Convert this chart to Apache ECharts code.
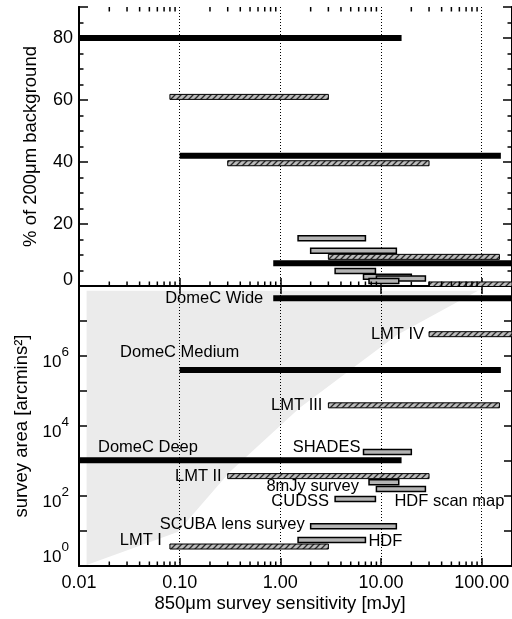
<!DOCTYPE html>
<html>
<head>
<meta charset="utf-8">
<script src="https://cdn.jsdelivr.net/npm/echarts@6/dist/echarts.min.js"></script>
<style>
  html, body { margin: 0; padding: 0; background: #fff; }
  #chart { width: 512px; height: 619px; }
</style>
</head>
<body>
<div id="chart"></div>
<script>
// surveys
var surveyNames = ['DomeC Wide', 'DomeC Medium', 'DomeC Deep', 'LMT I', 'LMT II', 'LMT III', 'LMT IV',
                   'SHADES', 'HDF scan map', '8mJy survey', 'CUDSS', 'SCUBA lens survey', 'HDF'];
var surveyKind = ['domec', 'domec', 'domec', 'lmt', 'lmt', 'lmt', 'lmt',
                  'scuba', 'scuba', 'scuba', 'scuba', 'scuba', 'scuba'];
var fluxLow  = [0.85, 0.1, 0.01, 0.08, 0.3, 3.0, 30, 6.7, 9.0, 7.6, 3.5, 2.0, 1.5];
var fluxHigh = [200, 155, 16, 3.0, 30, 150, 200, 20, 27.6, 15, 8.8, 14.2, 7.0];
var bgPercent  = [7.3, 42, 80, 61, 39.6, 9.4, 0.5, 3.0, 2.4, 1.6, 4.8, 11.4, 15.4];
var surveyArea = [4.5e7, 4e5, 1050, 3.6, 370, 3.9e4, 4.2e6, 1800, 158, 248, 82, 13.6, 5.5];

// shaded region in the area panel
var shadeFlux = [0.0119, 0.0119, 0.0955, 0.314, 1.56, 14.4, 92];
var shadeArea = [7.35e7, 1.07, 9.4, 485, 3.3e4, 4e6, 7.35e7];

var xTickLabels = {'-2': '0.01', '-1': '0.10', '0': '1.00', '1': '10.00', '2': '100.00'};

// where each name sits relative to its bar (pixels)
var labelPlace = {
  'DomeC Wide':        { end: false, dx: -10, dy: 0,   align: 'right' },
  'DomeC Medium':      { end: false, dx: 0,   dy: -17, align: 'center' },
  'DomeC Deep':        { end: false, dx: 19,  dy: -13, align: 'left' },
  'LMT I':             { end: false, dx: -8,  dy: -6,  align: 'right' },
  'LMT II':            { end: false, dx: -6,  dy: 0,   align: 'right' },
  'LMT III':           { end: false, dx: -6,  dy: 0,   align: 'right' },
  'LMT IV':            { end: false, dx: -5,  dy: 0,   align: 'right' },
  'SHADES':            { end: false, dx: -3,  dy: -5,  align: 'right' },
  '8mJy survey':       { end: false, dx: -10, dy: 4,   align: 'right' },
  'HDF scan map':      { end: false, dx: 18,  dy: 12,  align: 'left' },
  'CUDSS':             { end: false, dx: -6,  dy: 2,   align: 'right' },
  'SCUBA lens survey': { end: false, dx: -6,  dy: -2,  align: 'right' },
  'HDF':               { end: true,  dx: 3,   dy: 1,   align: 'left' }
};

var FONT = 'Liberation Sans';

function hatchCanvas() {
  var c = document.createElement('canvas');
  c.width = 6; c.height = 6;
  var g = c.getContext('2d');
  g.fillStyle = '#bcbcbc';
  g.fillRect(0, 0, 6, 6);
  g.strokeStyle = '#2a2a2a';
  g.lineWidth = 1.3;
  g.beginPath();
  g.moveTo(0, 6); g.lineTo(6, 0);
  g.moveTo(-1, 1); g.lineTo(1, -1);
  g.moveTo(5, 7); g.lineTo(7, 5);
  g.stroke();
  return c;
}
var hatch = { image: hatchCanvas(), repeat: 'repeat' };

// log minor ticks 2..9 per decade
var minorX = [];
for (var d = -2; d <= 2; d++) {
  for (var m = 2; m <= 9; m++) {
    var v = m * Math.pow(10, d);
    if (v < 200) minorX.push(v);
  }
}

function barItem(api, withLabel) {
  var i = api.value(3);
  var a = api.coord([api.value(0), api.value(2)]);
  var b = api.coord([api.value(1), api.value(2)]);
  var kind = surveyKind[i];
  var h = kind === 'domec' ? 6 : 5;
  var style;
  if (kind === 'domec') style = { fill: '#000' };
  else if (kind === 'lmt') style = { fill: hatch, stroke: '#000', lineWidth: 1 };
  else style = { fill: '#b4b4b4', stroke: '#000', lineWidth: 1.5 };
  var kids = [{ type: 'rect', shape: { x: a[0], y: a[1] - h / 2, width: b[0] - a[0], height: h }, style: style }];
  if (withLabel) {
    var p = labelPlace[surveyNames[i]];
    var ax = p.end ? b[0] : a[0];
    kids.push({
      type: 'text', x: ax + p.dx, y: a[1] + p.dy,
      style: { text: surveyNames[i], fill: '#000', font: '16.5px "' + FONT + '"', align: p.align, verticalAlign: 'middle' }
    });
  }
  return { type: 'group', children: kids };
}

var topData = [], areaData = [];
for (var i = 0; i < surveyNames.length; i++) {
  topData.push([fluxLow[i], fluxHigh[i], bgPercent[i], i]);
  areaData.push([fluxLow[i], fluxHigh[i], surveyArea[i], i]);
}
var shadeData = shadeFlux.map(function (f, k) { return [f, shadeArea[k]]; });

var axisLine = { show: true, lineStyle: { color: '#000', width: 2 } };
var dotted = { show: true, showMinLine: false, showMaxLine: false, lineStyle: { color: '#000', type: [1, 2], width: 1 } };
var nameStyle = { fontSize: 18.5, color: '#000', fontFamily: FONT };

function xLog(grid, pos, extra) {
  return Object.assign({
    type: 'log', logBase: 10, min: 0.01, max: 200, splitNumber: 4, gridIndex: grid, position: pos, z: 2,
    axisLine: axisLine,
    axisTick: { show: true, inside: true, length: 8, lineStyle: { color: '#000', width: 1.5 } },
    axisLabel: { show: false },
    splitLine: { show: false }
  }, extra || {});
}

function yAux(grid, pos, opts) {
  return Object.assign({
    gridIndex: grid, position: pos, z: 2,
    axisLine: axisLine,
    axisLabel: { show: false },
    splitLine: { show: false }
  }, opts);
}

var option = {
  animation: false,
  textStyle: { fontFamily: FONT, color: '#000' },
  grid: [
    { left: 79, top: 7, width: 433, height: 279, outerBoundsMode: 'none' },
    { left: 79, top: 286, width: 433, height: 280, outerBoundsMode: 'none' }
  ],
  xAxis: [
    xLog(0, 'bottom', { splitLine: dotted }),
    xLog(0, 'top'),
    xLog(1, 'bottom', {
      splitLine: dotted,
      name: '850\u03bcm survey sensitivity [mJy]', nameLocation: 'middle', nameGap: 28,
      nameTextStyle: Object.assign({ padding: [0, 31, 0, 0] }, nameStyle),
      axisLabel: {
        show: true, margin: 8, fontSize: 18, color: '#000', fontFamily: FONT,
        formatter: function (v) {
          var e = Math.round(Math.log10(v));
          return Math.abs(Math.log10(v) - e) < 1e-6 ? (xTickLabels[e] || '') : '';
        }
      }
    })
  ],
  yAxis: [
    // top panel, left: labelled every 20
    yAux(0, 'left', {
      type: 'value', min: 0, max: 90, interval: 20,
      name: '% of 200\u03bcm background', nameLocation: 'middle', nameGap: 39,
      nameTextStyle: nameStyle,
      axisTick: { show: true, inside: true, length: 9, lineStyle: { color: '#000', width: 1.5 } },
      axisLabel: { show: true, margin: 6, fontSize: 18, lineHeight: 11, color: '#000', fontFamily: FONT,
        verticalAlignMinLabel: 'bottom',
        formatter: function (v) { return v % 20 === 0 ? String(v) : ''; } }
    }),
    // area panel, left: log decades
    yAux(1, 'left', {
      type: 'log', logBase: 10, min: 1, max: 1e8, splitNumber: 8,
      name: 'survey area [arcmins\u00b2]', nameLocation: 'middle', nameGap: 47,
      nameTextStyle: nameStyle,
      axisTick: { show: true, inside: true, length: 8, lineStyle: { color: '#000', width: 1.5 } },
      axisLabel: {
        show: true, margin: 10, color: '#000', padding: [4, 0, 0, 0],
        verticalAlignMinLabel: 'bottom',
        formatter: function (v) {
          var e = Math.round(Math.log10(v));
          return (e % 2 === 0 && e < 8) ? '{b|10}{s|' + e + '}' : '';
        },
        rich: {
          b: { fontSize: 17, fontFamily: FONT, color: '#000', lineHeight: 26, verticalAlign: 'bottom' },
          s: { fontSize: 13.5, fontFamily: FONT, color: '#000', lineHeight: 13, verticalAlign: 'top' }
        }
      }
    }),
    // top panel minor ticks left, and both right sides
    yAux(0, 'left', {
      type: 'value', min: 0, max: 90, interval: 5,
      axisTick: { show: true, inside: true, length: 4.5, lineStyle: { color: '#000', width: 1.5 } }
    }),
    yAux(0, 'right', {
      type: 'value', min: 0, max: 90, interval: 20,
      axisTick: { show: true, inside: true, length: 9, lineStyle: { color: '#000', width: 1.5 } }
    }),
    yAux(0, 'right', {
      type: 'value', min: 0, max: 90, interval: 5,
      axisTick: { show: true, inside: true, length: 4.5, lineStyle: { color: '#000', width: 1.5 } }
    }),
    yAux(1, 'right', {
      type: 'log', logBase: 10, min: 1, max: 1e8, splitNumber: 8,
      axisTick: { show: true, inside: true, length: 8, lineStyle: { color: '#000', width: 1.5 } }
    })
  ],
  series: [
    {
      type: 'custom', name: 'shade', xAxisIndex: 2, yAxisIndex: 1, z: 1, clip: true,
      data: shadeData,
      renderItem: function (params, api) {
        if (params.dataIndex !== 0) return null;
        var pts = shadeData.map(function (d) { return api.coord(d); });
        return { type: 'polygon', shape: { points: pts }, style: { fill: '#ebebeb' } };
      }
    },
    {
      type: 'custom', name: 'background', xAxisIndex: 0, yAxisIndex: 0, z: 3, clip: true,
      data: topData, encode: { x: [0, 1], y: 2 },
      renderItem: function (params, api) { return barItem(api, false); }
    },
    {
      type: 'custom', name: 'area', xAxisIndex: 2, yAxisIndex: 1, z: 3, clip: true,
      data: areaData, encode: { x: [0, 1], y: 2 },
      renderItem: function (params, api) { return barItem(api, true); }
    },
    {
      // minor ticks on the log flux axes
      type: 'custom', name: 'minorTop', xAxisIndex: 0, yAxisIndex: 0, z: 4, silent: true,
      data: minorX.map(function (v) { return [v]; }),
      renderItem: function (params, api) {
        var lo = api.coord([api.value(0), 0]);
        var hi = api.coord([api.value(0), 90]);
        var ls = { stroke: '#000', lineWidth: 1.5 };
        return { type: 'group', children: [
          { type: 'line', shape: { x1: lo[0], y1: lo[1], x2: lo[0], y2: lo[1] - 4.5 }, style: ls },
          { type: 'line', shape: { x1: hi[0], y1: hi[1], x2: hi[0], y2: hi[1] + 4.5 }, style: ls }
        ] };
      }
    },
    {
      type: 'custom', name: 'minorBottom', xAxisIndex: 2, yAxisIndex: 1, z: 4, silent: true,
      data: minorX.map(function (v) { return [v]; }),
      renderItem: function (params, api) {
        var lo = api.coord([api.value(0), 1]);
        return { type: 'line', shape: { x1: lo[0], y1: lo[1], x2: lo[0], y2: lo[1] - 4.5 },
                 style: { stroke: '#000', lineWidth: 1.5 } };
      }
    }
  ]
};

var chart = echarts.init(document.getElementById('chart'));
chart.setOption(option);
</script>
</body>
</html>
